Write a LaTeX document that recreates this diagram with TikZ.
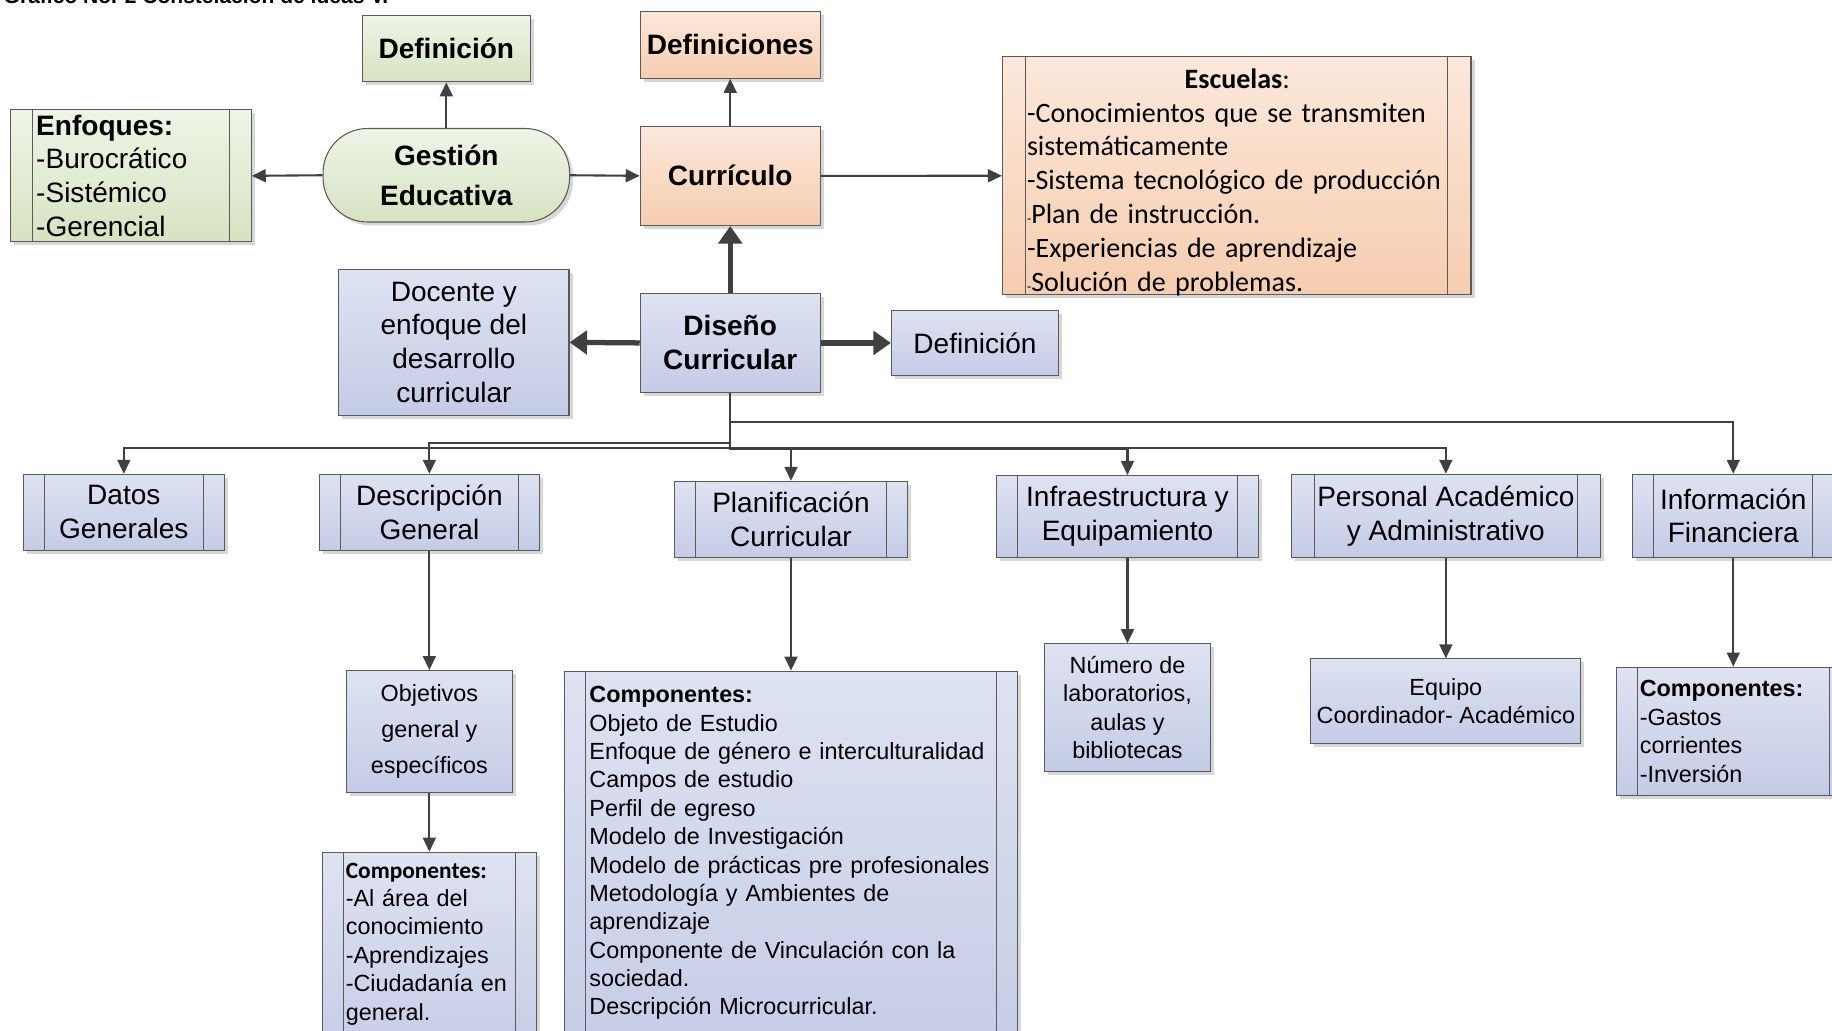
\documentclass[tikz,border=0pt]{standalone}
\usepackage{fontspec}
\setmainfont{Liberation Sans}
\newfontfamily\calib{Carlito}
\usetikzlibrary{arrows.meta,shadows}
\definecolor{grnT}{HTML}{EFF4E7}
\definecolor{grnB}{HTML}{D6E3C1}
\definecolor{orgT}{HTML}{FCE8DB}
\definecolor{orgB}{HTML}{F6CDB0}
\definecolor{bluT}{HTML}{DEE3F2}
\definecolor{bluB}{HTML}{C4CBE6}
\definecolor{boxline}{HTML}{5A5A5A}
\definecolor{linec}{HTML}{404040}
\tikzset{
box/.style={
  rectangle,
  draw=boxline,
  line width=0.9pt,
  inner sep=3pt,
  align=center,
  drop shadow={shadow xshift=3pt,shadow yshift=-3pt,fill=black!35,opacity=.45}
},
gbox/.style={box,top color=grnT,bottom color=grnB},
obox/.style={box,top color=orgT,bottom color=orgB},
bbox/.style={box,top color=bluT,bottom color=bluB},
subproc/.style={path picture={
  \draw[draw=boxline,line width=0.8pt]
    ([xshift=#1]path picture bounding box.north west) --
    ([xshift=#1]path picture bounding box.south west)
    ([xshift=-#1]path picture bounding box.north east) --
    ([xshift=-#1]path picture bounding box.south east);
}},
subproc/.default=18pt,
bigbold/.style={font=\bfseries\fontsize{24}{29}\selectfont},
bigtxt/.style={font=\fontsize{24}{29}\selectfont},
smalltxt/.style={font=\fontsize{20}{24.3}\selectfont},
conn/.style={draw=linec,line width=1.8pt,-{Triangle[length=12pt,width=11pt]}},
fat/.style={draw=linec,line width=4.5pt,-{Triangle[length=15pt,width=20pt]}}
}
\begin{document}
\begin{tikzpicture}[x=1pt,y=-1pt]
\useasboundingbox (0,0) rectangle (1568,882);
\node[anchor=base west,inner sep=0pt,font=\bfseries\fontsize{18}{20}\selectfont] (titulo) at (3,3) {Gráfico No. 2 Constelación de ideas V.};
% upper part
\node[gbox,bigbold,minimum width=144pt,minimum height=57pt] (defg) at (382,41.5) {Definición};
\node[obox,bigbold,minimum width=154pt,minimum height=57pt] (defs) at (625,38.5) {Definiciones};
\node[gbox,subproc=19pt,bigtxt,align=left,text width=162pt,inner xsep=22pt,minimum height=113pt] (enf) at (112,150.5)
  {\textbf{Enfoques:}\\-Burocrático\\-Sistémico\\-Gerencial};
\node[gbox,font=\bfseries\fontsize{24}{34}\selectfont,rounded corners=38pt,minimum width=211pt,minimum height=80pt] (gest) at (382,150) {Gestión\\Educativa};
\node[obox,bigbold,minimum width=154pt,minimum height=85pt] (curr) at (625,150.5) {Currículo};
\node[obox,subproc=20pt,font=\calib\fontsize{24}{29}\selectfont,anchor=north,align=left,text width=359pt,text height=18pt,text depth=168pt,inner xsep=21pt,inner ysep=9pt] (esc) at (1058.5,48)
  {\hspace*{135pt}\textbf{Escuelas}:\\-Conocimientos que se transmiten\\sistemáticamente\\-Sistema tecnológico de producción\\{\fontsize{12}{12}\selectfont -}Plan de instrucción.\\-Experiencias de aprendizaje\\{\fontsize{12}{12}\selectfont -}Solución de problemas.};
\node[bbox,bigtxt,minimum width=197pt,minimum height=125pt] (doc) at (388.5,293) {Docente y\\enfoque del\\desarrollo\\curricular};
\node[bbox,bigbold,minimum width=154pt,minimum height=85pt] (dis) at (625,293.5) {Diseño\\Curricular};
\node[bbox,bigtxt,minimum width=143pt,minimum height=55pt] (defb) at (834.5,293.5) {Definición};
% second row
\node[bbox,subproc,bigtxt,minimum width=172pt,minimum height=65pt] (datos) at (106,438.5) {Datos\\Generales};
\node[bbox,subproc,bigtxt,minimum width=188pt,minimum height=65pt] (desc) at (367.5,438.5) {Descripción\\General};
\node[bbox,subproc,bigtxt,minimum width=199pt,minimum height=65pt] (plan) at (677,444.5) {Planificación\\Curricular};
\node[bbox,subproc,bigtxt,minimum width=224pt,minimum height=70pt] (infra) at (965,442) {Infraestructura y\\Equipamiento};
\node[bbox,subproc=20pt,bigtxt,minimum width=265pt,minimum height=71pt] (pers) at (1237.5,441.5) {Personal Académico\\y Administrativo};
\node[bbox,subproc,bigtxt,minimum width=172pt,minimum height=71pt] (info) at (1483.5,441.5) {Información\\Financiera};
% third row
\node[bbox,font=\fontsize{20}{30.5}\selectfont,minimum width=142pt,minimum height=104pt] (obj) at (367.5,626) {Objetivos\\general y\\específicos};
\node[bbox,subproc,smalltxt,anchor=north,align=left,text width=143pt,inner xsep=20pt,inner ysep=9pt,text depth=150pt] (compa) at (367.5,729)
  {{\calib\bfseries Componentes:}\\-Al área del\\conocimiento\\-Aprendizajes\\-Ciudadanía en\\general.};
\node[bbox,subproc,smalltxt,anchor=north,align=left,text width=345pt,inner xsep=21pt,inner ysep=13pt,text depth=300pt] (compb) at (677,574)
  {\textbf{Componentes:}\\Objeto de Estudio\\Enfoque de género e interculturalidad\\Campos de estudio\\Perfil de egreso\\Modelo de Investigación\\Modelo de prácticas pre profesionales\\Metodología y Ambientes de\\aprendizaje\\Componente de Vinculación con la\\sociedad.\\Descripción Microcurricular.};
\node[bbox,font=\fontsize{20}{24.5}\selectfont,minimum width=142pt,minimum height=109pt] (num) at (965,605.5) {Número de\\laboratorios,\\aulas y\\bibliotecas};
\node[bbox,smalltxt,minimum width=231pt,minimum height=72pt] (equipo) at (1237.5,600) {Equipo\\Coordinador- Académico};
\node[bbox,subproc,smalltxt,align=left,text width=160pt,inner xsep=20pt,minimum height=110pt] (compc) at (1483.5,626)
  {\textbf{Componentes:}\\-Gastos\\corrientes\\-Inversión};
% connectors
\draw[conn] (gest.north) -- (defg.south);
\draw[conn] (gest.west) -- (enf.east);
\draw[conn] (gest.east) -- (curr.west);
\draw[conn] (curr.north) -- (defs.south);
\draw[conn] (curr.east) -- (esc.west);
\draw[fat] (dis.north) -- (curr.south);
\draw[fat] (dis.west) -- (doc.east);
\draw[fat] (dis.east) -- (defb.west);
\foreach \n/\d in {datos/47,desc/43,plan/48,infra/48,pers/47,info/25}
  \draw[conn] (dis.south) -- ++(0,\d) -| (\n.north);
\foreach \a/\b in {desc/obj,obj/compa,plan/compb,infra/num,pers/equipo,info/compc}
  \draw[conn] (\a.south) -- (\b.north);
\end{tikzpicture}
\end{document}
